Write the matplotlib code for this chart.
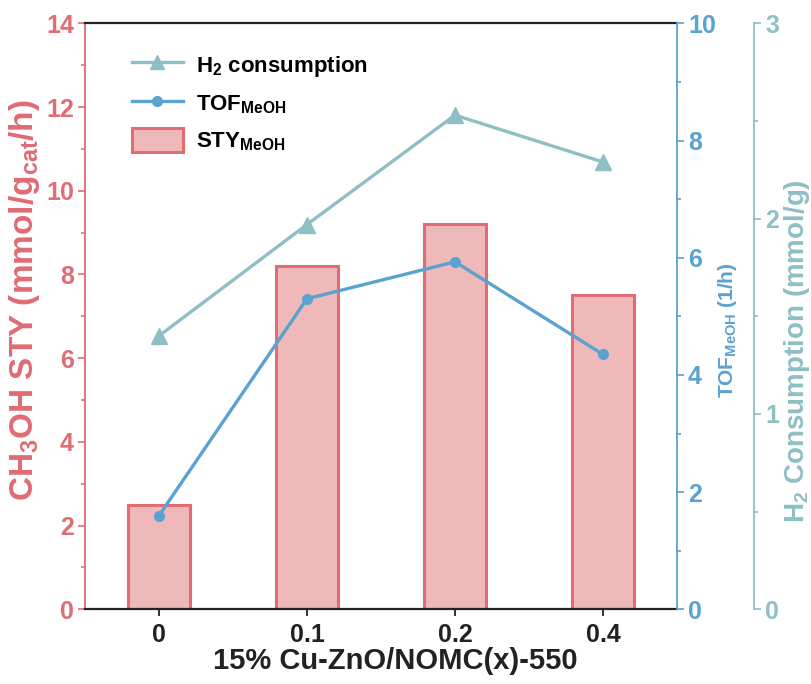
import matplotlib
matplotlib.use("Agg")
import matplotlib.pyplot as plt
from matplotlib.patches import Patch
from matplotlib.lines import Line2D
from matplotlib.ticker import MultipleLocator

plt.rcParams['font.family'] = ['Liberation Sans', 'DejaVu Sans']
plt.rcParams['font.weight'] = 'bold'
plt.rcParams['mathtext.fontset'] = 'custom'
plt.rcParams['mathtext.rm'] = 'Liberation Sans:bold'
plt.rcParams['mathtext.it'] = 'Liberation Sans:bold'
plt.rcParams['mathtext.bf'] = 'Liberation Sans:bold'
plt.rcParams['mathtext.default'] = 'rm'

# Data
categories = ['0', '0.1', '0.2', '0.4']
sty = [2.5, 8.2, 9.2, 7.5]            # CH3OH STY (mmol/g_cat/h)
tof = [1.6, 5.3, 5.93, 4.35]          # TOF_MeOH (1/h)
h2 = [1.40, 1.97, 2.53, 2.29]         # H2 consumption (mmol/g)

RED = '#E06C74'
RED_FILL = '#EFB9B9'
BLUE = '#5AA2D0'
TEAL = '#8EBFC4'
DARK = '#222222'
TICK_FS = 18

fig = plt.figure(figsize=(8.12, 6.84), dpi=100)
ax = fig.add_axes([0.1047, 0.1092, 0.7290, 0.8567])
x = list(range(len(categories)))

ax.bar(x, sty, width=0.42, color=RED_FILL, edgecolor=RED, linewidth=2.2, zorder=1)
ax.set_xlim(-0.5, 3.5)
ax.set_ylim(0, 14)
ax.set_xticks(x)
ax.set_xticklabels(categories)
ax.yaxis.set_major_locator(MultipleLocator(2))
ax.yaxis.set_minor_locator(MultipleLocator(1))
ax.tick_params(axis='x', direction='out', length=5, width=1.3, colors=DARK,
               labelsize=TICK_FS, pad=5)
ax.tick_params(axis='y', which='major', direction='out', length=5, width=1.2,
               colors=RED, labelsize=TICK_FS, pad=3)
ax.tick_params(axis='y', which='minor', direction='out', length=3, width=1.2,
               colors=RED)
ax.spines['left'].set_color(RED)
ax.spines['left'].set_linewidth(1.3)
ax.spines['bottom'].set_color(DARK)
ax.spines['bottom'].set_linewidth(1.6)
ax.spines['top'].set_color(DARK)
ax.spines['top'].set_linewidth(1.6)
ax.spines['right'].set_visible(False)
ax.set_xlabel('15% Cu-ZnO/NOMC(x)-550', fontsize=21, fontweight='bold',
              color=DARK)
ax.xaxis.set_label_coords(0.525, -0.064)
ax.set_ylabel('CH$_3$OH STY (mmol/g$_{cat}$/h)', fontsize=24,
              fontweight='bold', color=RED)
ax.yaxis.set_label_coords(-0.0726, 0.528)

# TOF axis
ax2 = ax.twinx()
ax2.plot(x, tof, color=BLUE, linewidth=2.4, marker='o', markersize=7,
         zorder=3)
ax2.set_ylim(0, 10)
ax2.yaxis.set_major_locator(MultipleLocator(2))
ax2.yaxis.set_minor_locator(MultipleLocator(1))
ax2.tick_params(axis='y', which='major', direction='out', length=5, width=1.2,
                colors=BLUE, labelsize=TICK_FS, pad=3)
ax2.tick_params(axis='y', which='minor', direction='out', length=3, width=1.2,
                colors=BLUE)
for s in ['left', 'top', 'bottom']:
    ax2.spines[s].set_visible(False)
ax2.spines['right'].set_color(BLUE)
ax2.spines['right'].set_linewidth(1.3)
ax2.set_ylabel('TOF$_{MeOH}$ (1/h)', fontsize=15, fontweight='bold',
               color=BLUE)
ax2.yaxis.set_label_coords(1.066, 0.477)

# H2 consumption axis
ax3 = ax.twinx()
ax3.spines['right'].set_position(('axes', 1.1305))
ax3.plot(x, h2, color=TEAL, linewidth=2.4, marker='^', markersize=11,
         zorder=2)
ax3.set_ylim(0, 3)
ax3.yaxis.set_major_locator(MultipleLocator(1))
ax3.yaxis.set_minor_locator(MultipleLocator(0.5))
ax3.tick_params(axis='y', which='major', direction='out', length=5, width=1.2,
                colors=TEAL, labelsize=TICK_FS, pad=3)
ax3.tick_params(axis='y', which='minor', direction='out', length=3, width=1.2,
                colors=TEAL)
for s in ['left', 'top', 'bottom']:
    ax3.spines[s].set_visible(False)
ax3.spines['right'].set_color(TEAL)
ax3.spines['right'].set_linewidth(1.3)
ax3.set_ylabel('H$_2$ Consumption (mmol/g)', fontsize=20, fontweight='bold',
               color=TEAL)
ax3.yaxis.set_label_coords(1.177, 0.44)

handles = [
    Line2D([0], [0], color=TEAL, linewidth=2.4, marker='^', markersize=10),
    Line2D([0], [0], color=BLUE, linewidth=2.4, marker='o', markersize=7),
    Patch(facecolor=RED_FILL, edgecolor=RED, linewidth=2.2),
]
labels = ['H$_2$ consumption', 'TOF$_{MeOH}$', 'STY$_{MeOH}$']
ax3.legend(handles, labels, loc='upper left', bbox_to_anchor=(0.045, 0.985),
           frameon=False, prop={'size': 16, 'weight': 'bold'},
           handlelength=2.3, handleheight=1.3, labelspacing=0.55,
           handletextpad=0.6)

fig.savefig('out.png', dpi=100)
